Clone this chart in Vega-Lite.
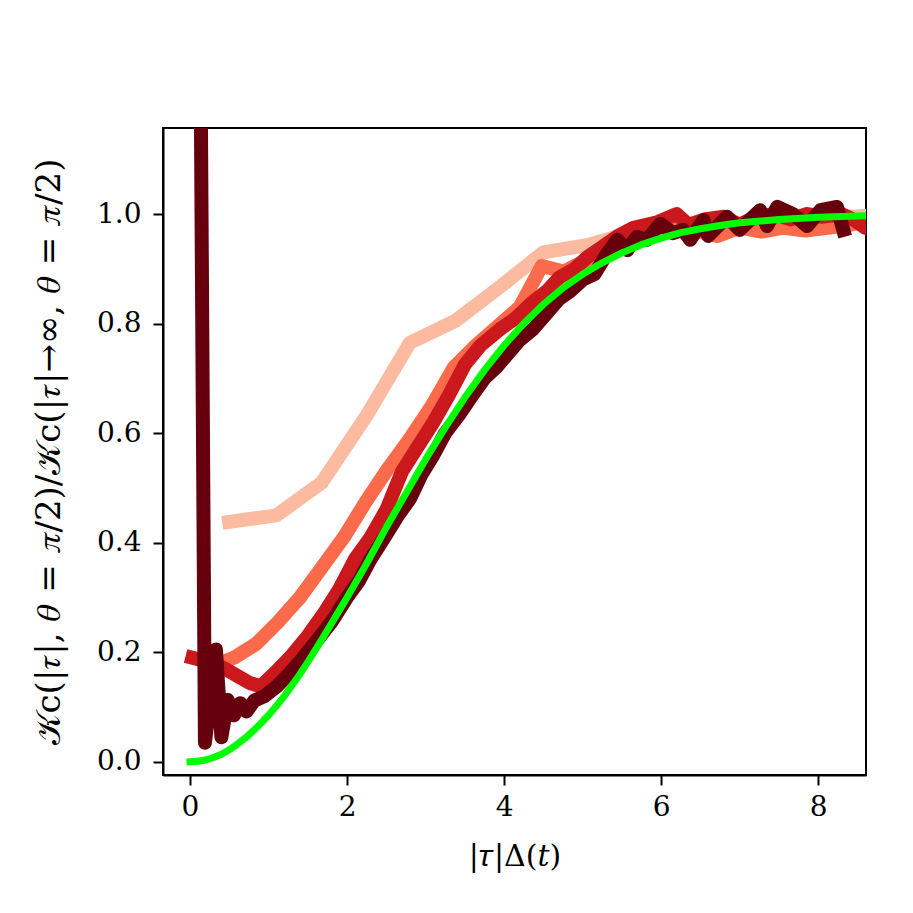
{
  "$schema": "https://vega.github.io/schema/vega-lite/v6.json",
  "width": 703,
  "height": 647,
  "autosize": {"type": "none"},
  "padding": {"left": 163, "top": 128, "right": 47, "bottom": 138},
  "background": "white",
  "datasets": {
    "curves": [
      {"series": "light", "x": 0.5, "y": 0.438},
      {"series": "light", "x": 1.1, "y": 0.45},
      {"series": "light", "x": 1.68, "y": 0.51},
      {"series": "light", "x": 2.24, "y": 0.63},
      {"series": "light", "x": 2.8, "y": 0.765},
      {"series": "light", "x": 3.38, "y": 0.805},
      {"series": "light", "x": 3.93, "y": 0.865},
      {"series": "light", "x": 4.5, "y": 0.93},
      {"series": "light", "x": 5.05, "y": 0.943},
      {"series": "light", "x": 5.6, "y": 0.965},
      {"series": "light", "x": 6.15, "y": 0.975},
      {"series": "light", "x": 6.7, "y": 0.98},
      {"series": "light", "x": 7.3, "y": 0.985},
      {"series": "light", "x": 7.85, "y": 0.99},
      {"series": "light", "x": 8.4, "y": 0.995},
      {"series": "light", "x": 8.95, "y": 1.0},

      {"series": "coral", "x": 0.28, "y": 0.175},
      {"series": "coral", "x": 0.56, "y": 0.19},
      {"series": "coral", "x": 0.84, "y": 0.215},
      {"series": "coral", "x": 1.12, "y": 0.255},
      {"series": "coral", "x": 1.4, "y": 0.3},
      {"series": "coral", "x": 1.68, "y": 0.355},
      {"series": "coral", "x": 1.96, "y": 0.41},
      {"series": "coral", "x": 2.24, "y": 0.475},
      {"series": "coral", "x": 2.52, "y": 0.535},
      {"series": "coral", "x": 2.8, "y": 0.59},
      {"series": "coral", "x": 3.08, "y": 0.65},
      {"series": "coral", "x": 3.36, "y": 0.72},
      {"series": "coral", "x": 3.64, "y": 0.76},
      {"series": "coral", "x": 3.92, "y": 0.795},
      {"series": "coral", "x": 4.2, "y": 0.83},
      {"series": "coral", "x": 4.48, "y": 0.905},
      {"series": "coral", "x": 4.76, "y": 0.895},
      {"series": "coral", "x": 5.04, "y": 0.915},
      {"series": "coral", "x": 5.32, "y": 0.945},
      {"series": "coral", "x": 5.6, "y": 0.965},
      {"series": "coral", "x": 5.88, "y": 0.97},
      {"series": "coral", "x": 6.16, "y": 0.975},
      {"series": "coral", "x": 6.44, "y": 0.97},
      {"series": "coral", "x": 6.72, "y": 0.96},
      {"series": "coral", "x": 7.0, "y": 0.975},
      {"series": "coral", "x": 7.28, "y": 0.968},
      {"series": "coral", "x": 7.56, "y": 0.975},
      {"series": "coral", "x": 7.84, "y": 0.97},
      {"series": "coral", "x": 8.12, "y": 0.975},
      {"series": "coral", "x": 8.4, "y": 0.98},
      {"series": "coral", "x": 8.68, "y": 0.99},

      {"series": "red", "x": 0.03, "y": 0.19},
      {"series": "red", "x": 0.3, "y": 0.18},
      {"series": "red", "x": 0.47, "y": 0.168},
      {"series": "red", "x": 0.76, "y": 0.144},
      {"series": "red", "x": 0.9, "y": 0.138},
      {"series": "red", "x": 1.1, "y": 0.165},
      {"series": "red", "x": 1.3, "y": 0.195},
      {"series": "red", "x": 1.5, "y": 0.23},
      {"series": "red", "x": 1.7, "y": 0.27},
      {"series": "red", "x": 1.9, "y": 0.315},
      {"series": "red", "x": 2.1, "y": 0.37},
      {"series": "red", "x": 2.3, "y": 0.41},
      {"series": "red", "x": 2.5, "y": 0.46},
      {"series": "red", "x": 2.7, "y": 0.53},
      {"series": "red", "x": 2.9, "y": 0.575},
      {"series": "red", "x": 3.1, "y": 0.62},
      {"series": "red", "x": 3.3, "y": 0.67},
      {"series": "red", "x": 3.5, "y": 0.725},
      {"series": "red", "x": 3.7, "y": 0.76},
      {"series": "red", "x": 3.95, "y": 0.79},
      {"series": "red", "x": 4.15, "y": 0.81},
      {"series": "red", "x": 4.37, "y": 0.84},
      {"series": "red", "x": 4.55, "y": 0.86},
      {"series": "red", "x": 4.71, "y": 0.885},
      {"series": "red", "x": 4.9, "y": 0.9},
      {"series": "red", "x": 5.05, "y": 0.92},
      {"series": "red", "x": 5.25, "y": 0.94},
      {"series": "red", "x": 5.45, "y": 0.96},
      {"series": "red", "x": 5.65, "y": 0.975},
      {"series": "red", "x": 5.95, "y": 0.985},
      {"series": "red", "x": 6.2, "y": 1.0},
      {"series": "red", "x": 6.35, "y": 0.98},
      {"series": "red", "x": 6.55, "y": 0.99},
      {"series": "red", "x": 6.8, "y": 0.995},
      {"series": "red", "x": 7.0, "y": 0.98},
      {"series": "red", "x": 7.2, "y": 0.995},
      {"series": "red", "x": 7.45, "y": 1.0},
      {"series": "red", "x": 7.65, "y": 0.99},
      {"series": "red", "x": 7.85, "y": 1.0},
      {"series": "red", "x": 8.05, "y": 0.995},
      {"series": "red", "x": 8.3, "y": 1.0},
      {"series": "red", "x": 8.45, "y": 0.99},
      {"series": "red", "x": 8.6, "y": 0.975},
      {"series": "red", "x": 8.7, "y": 0.97},

      {"series": "dark", "x": 0.12, "y": 1.6},
      {"series": "dark", "x": 0.19, "y": 0.035},
      {"series": "dark", "x": 0.33, "y": 0.205},
      {"series": "dark", "x": 0.4, "y": 0.045},
      {"series": "dark", "x": 0.48, "y": 0.113},
      {"series": "dark", "x": 0.56, "y": 0.085},
      {"series": "dark", "x": 0.64, "y": 0.107},
      {"series": "dark", "x": 0.72, "y": 0.092},
      {"series": "dark", "x": 0.82, "y": 0.112},
      {"series": "dark", "x": 0.95, "y": 0.12},
      {"series": "dark", "x": 1.1, "y": 0.137},
      {"series": "dark", "x": 1.27, "y": 0.162},
      {"series": "dark", "x": 1.44, "y": 0.19},
      {"series": "dark", "x": 1.62, "y": 0.222},
      {"series": "dark", "x": 1.8, "y": 0.255},
      {"series": "dark", "x": 2.0, "y": 0.3},
      {"series": "dark", "x": 2.15, "y": 0.33},
      {"series": "dark", "x": 2.3, "y": 0.37},
      {"series": "dark", "x": 2.5, "y": 0.415},
      {"series": "dark", "x": 2.65, "y": 0.45},
      {"series": "dark", "x": 2.8, "y": 0.48},
      {"series": "dark", "x": 2.95, "y": 0.525},
      {"series": "dark", "x": 3.1, "y": 0.56},
      {"series": "dark", "x": 3.25, "y": 0.6},
      {"series": "dark", "x": 3.44, "y": 0.636},
      {"series": "dark", "x": 3.6, "y": 0.67},
      {"series": "dark", "x": 3.75, "y": 0.7},
      {"series": "dark", "x": 3.9, "y": 0.72},
      {"series": "dark", "x": 4.05, "y": 0.745},
      {"series": "dark", "x": 4.2, "y": 0.77},
      {"series": "dark", "x": 4.37, "y": 0.79},
      {"series": "dark", "x": 4.55, "y": 0.82},
      {"series": "dark", "x": 4.7, "y": 0.845},
      {"series": "dark", "x": 4.85, "y": 0.86},
      {"series": "dark", "x": 5.0, "y": 0.88},
      {"series": "dark", "x": 5.15, "y": 0.89},
      {"series": "dark", "x": 5.3, "y": 0.925},
      {"series": "dark", "x": 5.44, "y": 0.953},
      {"series": "dark", "x": 5.57, "y": 0.934},
      {"series": "dark", "x": 5.69, "y": 0.958},
      {"series": "dark", "x": 5.82, "y": 0.953},
      {"series": "dark", "x": 5.99, "y": 0.982},
      {"series": "dark", "x": 6.15, "y": 0.965},
      {"series": "dark", "x": 6.28, "y": 0.971},
      {"series": "dark", "x": 6.37, "y": 0.953},
      {"series": "dark", "x": 6.54, "y": 0.989},
      {"series": "dark", "x": 6.6, "y": 0.96},
      {"series": "dark", "x": 6.84, "y": 0.995},
      {"series": "dark", "x": 7.0, "y": 0.971},
      {"series": "dark", "x": 7.26, "y": 1.007},
      {"series": "dark", "x": 7.35, "y": 0.978},
      {"series": "dark", "x": 7.48, "y": 1.013},
      {"series": "dark", "x": 7.68, "y": 1.0},
      {"series": "dark", "x": 7.86, "y": 0.978},
      {"series": "dark", "x": 8.03, "y": 1.007},
      {"series": "dark", "x": 8.24, "y": 1.013},
      {"series": "dark", "x": 8.32, "y": 0.971}
    ],
    "model": [
      {"x": 0.0, "y": 0.0},
      {"x": 0.1, "y": 0.001},
      {"x": 0.2, "y": 0.0035},
      {"x": 0.3, "y": 0.008},
      {"x": 0.4, "y": 0.014},
      {"x": 0.5, "y": 0.022},
      {"x": 0.6, "y": 0.032},
      {"x": 0.7, "y": 0.043},
      {"x": 0.8, "y": 0.056},
      {"x": 0.9, "y": 0.07},
      {"x": 1.0, "y": 0.085},
      {"x": 1.1, "y": 0.102},
      {"x": 1.2, "y": 0.12},
      {"x": 1.3, "y": 0.14},
      {"x": 1.4, "y": 0.16},
      {"x": 1.5, "y": 0.182},
      {"x": 1.6, "y": 0.205},
      {"x": 1.7, "y": 0.228},
      {"x": 1.8, "y": 0.252},
      {"x": 1.9, "y": 0.276},
      {"x": 2.0, "y": 0.3},
      {"x": 2.25, "y": 0.362},
      {"x": 2.5, "y": 0.428},
      {"x": 2.75, "y": 0.49},
      {"x": 3.0, "y": 0.552},
      {"x": 3.25, "y": 0.61},
      {"x": 3.5, "y": 0.665},
      {"x": 3.75, "y": 0.715},
      {"x": 4.0, "y": 0.76},
      {"x": 4.25, "y": 0.8},
      {"x": 4.5, "y": 0.835},
      {"x": 4.75, "y": 0.865},
      {"x": 5.0, "y": 0.89},
      {"x": 5.25, "y": 0.911},
      {"x": 5.5, "y": 0.929},
      {"x": 5.75, "y": 0.944},
      {"x": 6.0, "y": 0.956},
      {"x": 6.25, "y": 0.966},
      {"x": 6.5, "y": 0.973},
      {"x": 6.75, "y": 0.979},
      {"x": 7.0, "y": 0.984},
      {"x": 7.5, "y": 0.99},
      {"x": 8.0, "y": 0.994},
      {"x": 8.6, "y": 0.997}
    ]
  },
  "encoding": {
    "x": {
      "field": "x",
      "type": "quantitative",
      "scale": {"domain": [-0.344, 8.61], "nice": false, "zero": false},
      "axis": {"values": [0, 2, 4, 6, 8], "format": "d", "title": "|𝜏|Δ(𝑡)"}
    },
    "y": {
      "field": "y",
      "type": "quantitative",
      "scale": {"domain": [-0.024, 1.157], "nice": false, "zero": false},
      "axis": {
        "values": [0, 0.2, 0.4, 0.6, 0.8, 1.0],
        "format": ".1f",
        "title": "𝒦c(|𝜏|, 𝜃 = 𝜋/2)/𝒦c(|𝜏|→∞, 𝜃 = 𝜋/2)"
      }
    }
  },
  "layer": [
    {
      "data": {"name": "curves"},
      "transform": [{"filter": "datum.series == 'light'"}],
      "mark": {"type": "line", "clip": true, "color": "#fcbba1", "strokeWidth": 14, "strokeCap": "square", "strokeJoin": "round"}
    },
    {
      "data": {"name": "curves"},
      "transform": [{"filter": "datum.series == 'coral'"}],
      "mark": {"type": "line", "clip": true, "color": "#fb6a4a", "strokeWidth": 14, "strokeCap": "square", "strokeJoin": "round"}
    },
    {
      "data": {"name": "curves"},
      "transform": [{"filter": "datum.series == 'red'"}],
      "mark": {"type": "line", "clip": true, "color": "#cb181d", "strokeWidth": 14, "strokeCap": "square", "strokeJoin": "round"}
    },
    {
      "data": {"name": "curves"},
      "transform": [{"filter": "datum.series == 'dark'"}],
      "mark": {"type": "line", "clip": true, "color": "#67000d", "strokeWidth": 14, "strokeCap": "square", "strokeJoin": "round"}
    },
    {
      "data": {"name": "model"},
      "mark": {"type": "line", "clip": true, "color": "#00ff00", "strokeWidth": 7, "strokeCap": "square", "strokeJoin": "round"}
    }
  ],
  "config": {
    "view": {"stroke": "black", "strokeWidth": 2},
    "axis": {
      "grid": false,
      "domainColor": "black",
      "domainWidth": 2,
      "tickColor": "black",
      "tickWidth": 2,
      "tickSize": 10,
      "labelFont": "DejaVu Serif",
      "labelFontSize": 28,
      "labelColor": "black",
      "titleFont": "DejaVu Serif",
      "titleFontWeight": "normal",
      "titleColor": "black"
    },
    "axisX": {"labelPadding": 8, "titlePadding": 20, "titleFontSize": 30},
    "axisY": {"labelPadding": 12, "titlePadding": 30, "titleFontSize": 34}
  }
}
